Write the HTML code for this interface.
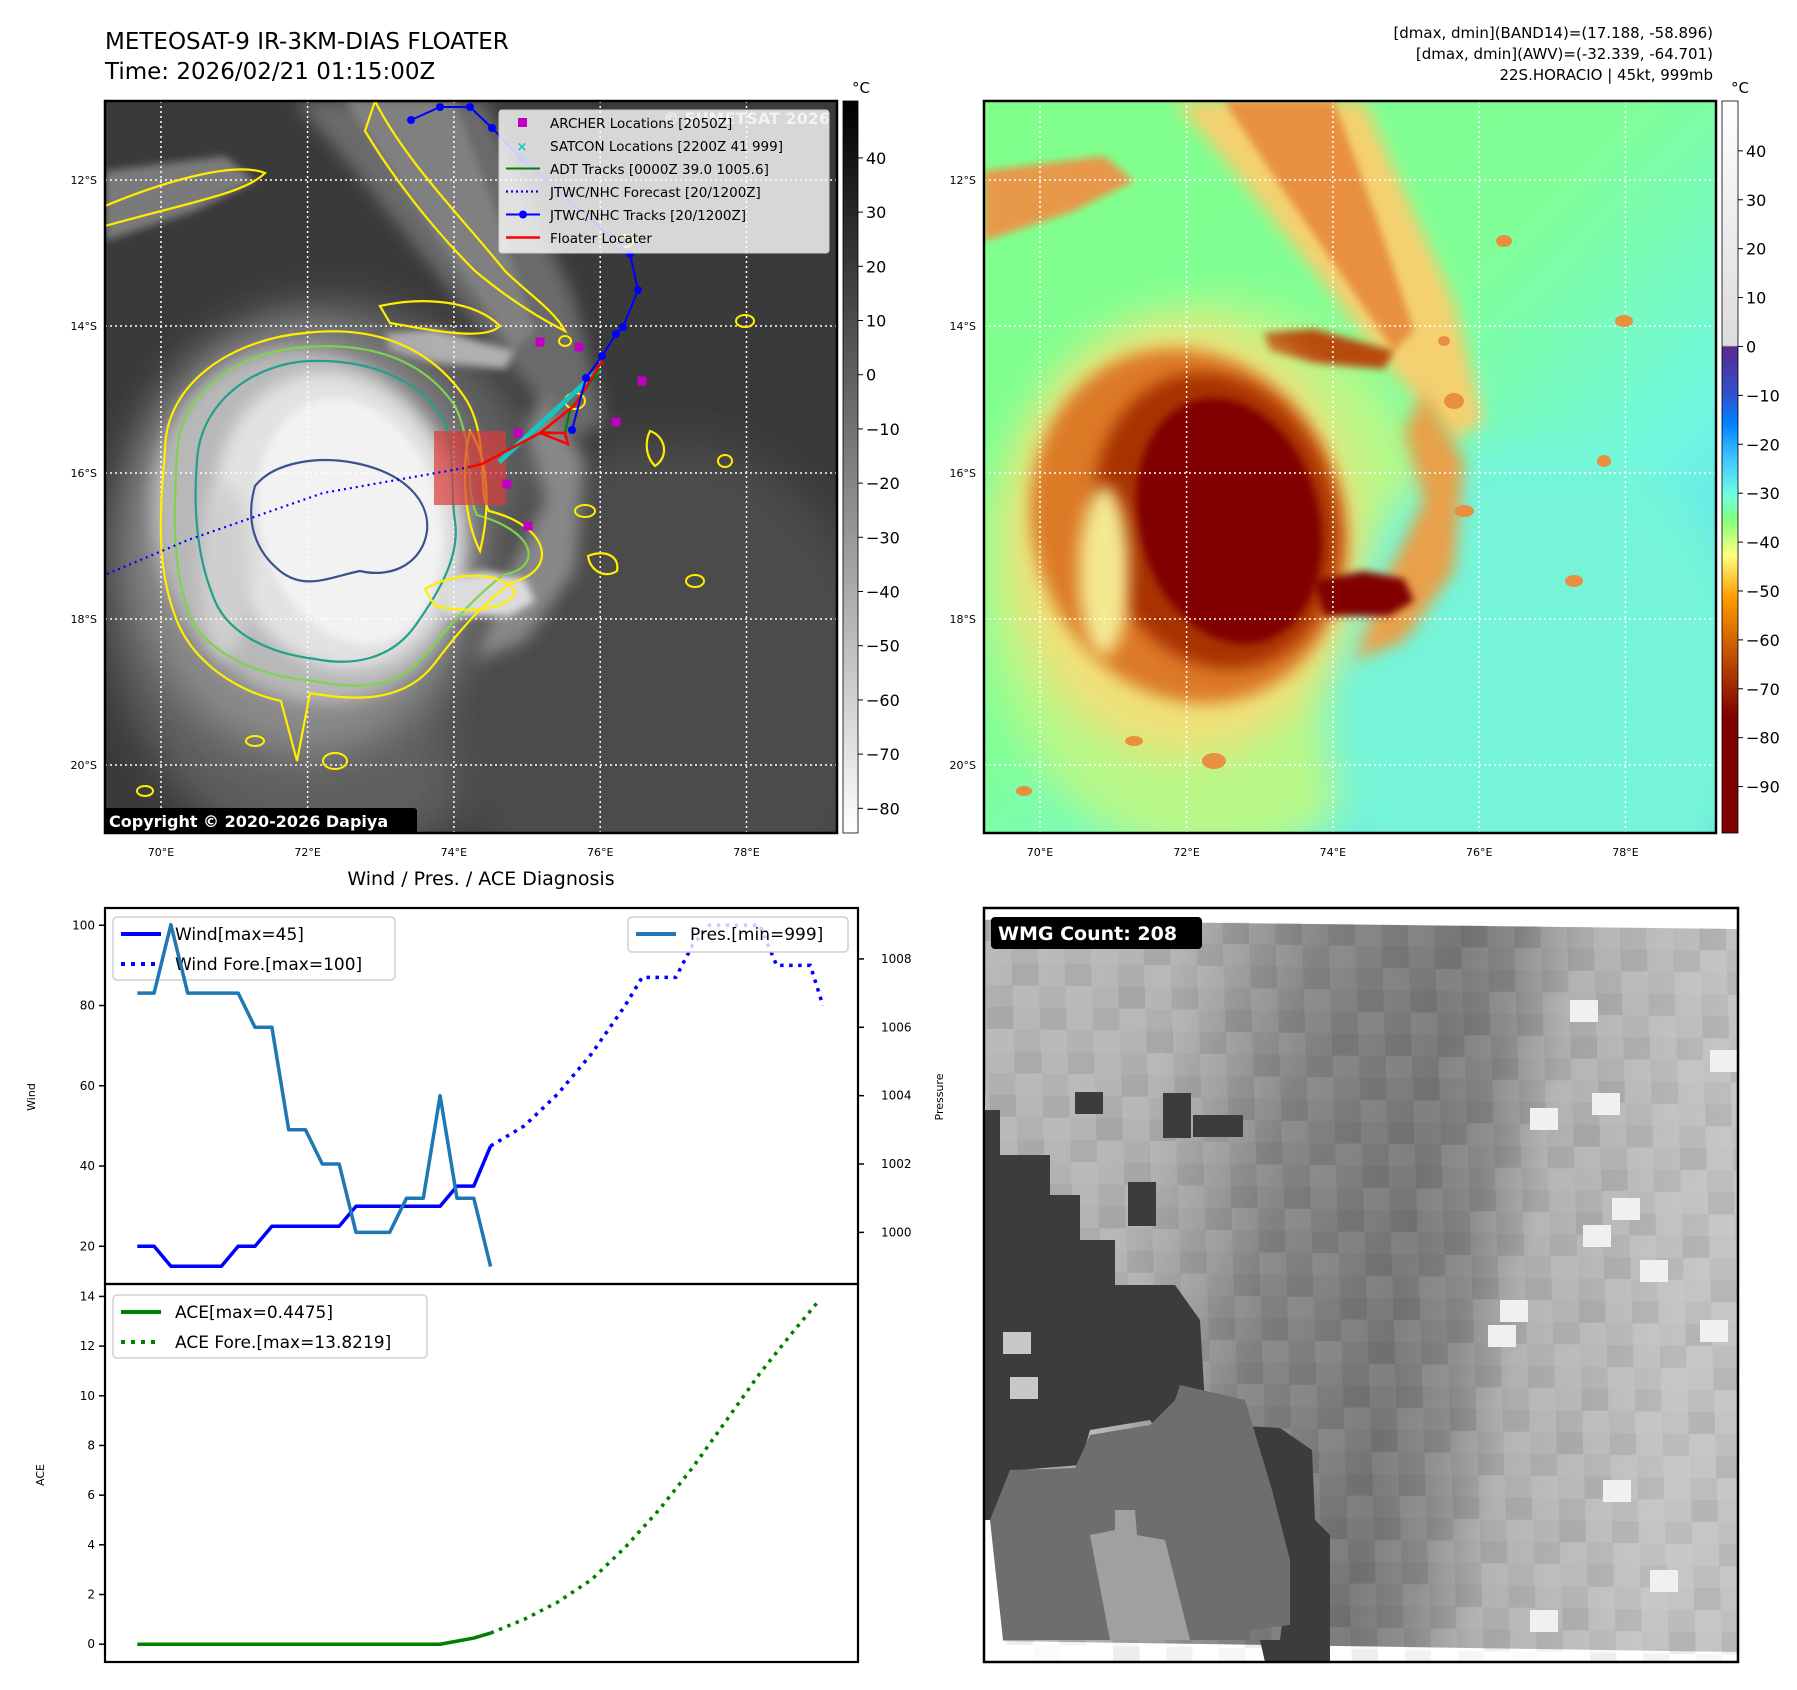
<!DOCTYPE html>
<html><head><meta charset="utf-8">
<style>
html,body{margin:0;padding:0;background:#fff;}
svg{display:block;font-family:"DejaVu Sans","Liberation Sans",sans-serif;}
</style></head>
<body>
<svg id="root" width="1797" height="1690" viewBox="0 0 1797 1690" xmlns="http://www.w3.org/2000/svg">
<defs>
  <filter id="b8" x="-30%" y="-30%" width="160%" height="160%"><feGaussianBlur stdDeviation="8"/></filter>
  <filter id="b20" x="-50%" y="-50%" width="200%" height="200%"><feGaussianBlur stdDeviation="20"/></filter>
  <filter id="b4" x="-30%" y="-30%" width="160%" height="160%"><feGaussianBlur stdDeviation="4"/></filter>
  <clipPath id="clipL"><rect x="105" y="101" width="732" height="732"/></clipPath>
  <clipPath id="clipR"><rect x="984" y="101" width="732" height="732"/></clipPath>
  <clipPath id="clipB"><rect x="984" y="908" width="754" height="754"/></clipPath>
  <linearGradient id="cbL" x1="0" y1="0" x2="0" y2="1"><stop offset="0" stop-color="#000"/><stop offset="1" stop-color="#fff"/></linearGradient>
  <linearGradient id="cbR" x1="0" y1="0" x2="0" y2="1">
    <stop offset="0" stop-color="#ffffff"/>
    <stop offset="0.334" stop-color="#dcdcdc"/>
    <stop offset="0.336" stop-color="#5a2a8a"/>
    <stop offset="0.40" stop-color="#3050d0"/>
    <stop offset="0.44" stop-color="#0080ff"/>
    <stop offset="0.49" stop-color="#40c8ff"/>
    <stop offset="0.54" stop-color="#70ffe0"/>
    <stop offset="0.57" stop-color="#80ff80"/>
    <stop offset="0.62" stop-color="#ffff80"/>
    <stop offset="0.68" stop-color="#ff9a00"/>
    <stop offset="0.77" stop-color="#b84400"/>
    <stop offset="0.84" stop-color="#800000"/>
    <stop offset="1" stop-color="#800000"/>
  </linearGradient>
  <linearGradient id="bgR" x1="0" y1="0" x2="1" y2="1">
    <stop offset="0" stop-color="#80ff8a"/>
    <stop offset="0.45" stop-color="#80ff98"/>
    <stop offset="0.7" stop-color="#70f8e0"/>
    <stop offset="1" stop-color="#48c0ff"/>
  </linearGradient>
  <linearGradient id="bgB" x1="0" y1="0" x2="1" y2="0.15">
    <stop offset="0" stop-color="#b8b8b8"/>
    <stop offset="0.26" stop-color="#b4b4b4"/>
    <stop offset="0.36" stop-color="#9a9a9a"/>
    <stop offset="0.44" stop-color="#858585"/>
    <stop offset="0.62" stop-color="#787878"/>
    <stop offset="0.70" stop-color="#8a8a8a"/>
    <stop offset="0.78" stop-color="#b0b0b0"/>
    <stop offset="1" stop-color="#c4c4c4"/>
  </linearGradient>
</defs>

<!-- titles -->
<text x="105" y="49" font-size="23">METEOSAT-9 IR-3KM-DIAS FLOATER</text>
<text x="105" y="79" font-size="23">Time: 2026/02/21 01:15:00Z</text>
<g font-size="15" text-anchor="end">
  <text x="1713" y="38">[dmax, dmin](BAND14)=(17.188, -58.896)</text>
  <text x="1713" y="59">[dmax, dmin](AWV)=(-32.339, -64.701)</text>
  <text x="1713" y="80">22S.HORACIO | 45kt, 999mb</text>
</g>

<g id="mapL" clip-path="url(#clipL)"></g>
<g id="mapR" clip-path="url(#clipR)"></g>
<g id="overL"></g>
<rect x="105" y="101" width="732" height="732" fill="none" stroke="#000" stroke-width="2.5"/>
<rect x="984" y="101" width="732" height="732" fill="none" stroke="#000" stroke-width="2.5"/>

<!-- colorbars -->
<rect x="843" y="101" width="15" height="732" fill="url(#cbL)" stroke="#000" stroke-width="0.8"/>
<rect x="1722" y="101" width="16" height="732" fill="url(#cbR)" stroke="#000" stroke-width="0.8"/>
<text x="852" y="93" font-size="15">°C</text>
<text x="1731" y="93" font-size="15">°C</text>
<g id="cbTicks"></g>

<g id="mapTicks" font-size="11"></g>

<text x="481" y="885" font-size="19" text-anchor="middle">Wind / Pres. / ACE Diagnosis</text>

<g id="chart"></g>

<g id="wmg"></g>

<script>
// ---------------- chart data ----------------
const obsHours = [0,6,12,18,24,30,36,42,48,54,60,66,72,78,84,90,96,102,108,114,120,126];
const windObs = [20,20,15,15,15,15,20,20,25,25,25,25,25,30,30,30,30,30,30,35,35,45];
const presObs = [1007,1007,1009,1007,1007,1007,1007,1006,1006,1003,1003,1002,1002,1000,1000,1000,1001,1001,1004,1001,1001,999];
const aceObs = [0,0,0,0,0,0,0,0,0,0,0,0,0,0,0,0,0,0,0,0.1225,0.245,0.4475];
const windFcHours = [126,138,150,162,174,180,192,198,204,222,228,240,244.5];
const windFc = [45,50,58,68,80,87,87,95,100,100,90,90,80];
const aceFcHours = [126,138,150,162,174,186,198,210,222,234,243];
const aceFc = [0.4475,1.0,1.7,2.6,3.9,5.4,7.1,9.0,10.9,12.6,13.82];
const windTicks = [20,40,60,80,100];
const presTicks = [1000,1002,1004,1006,1008];
const aceTicks = [0,2,4,6,8,10,12,14];

const NS='http://www.w3.org/2000/svg';
function mk(tag, attrs, parent){const e=document.createElementNS(NS,tag);for(const k in attrs)e.setAttribute(k,attrs[k]);if(parent)parent.appendChild(e);return e;}

// axes
const X0=105,X1=858,T0=908,T1=1284,B0=1284,B1=1662;
const xS=h=>X0+(h-(-11.5))/(257-(-11.5))*(X1-X0);
const wS=v=>T1-(v-10.6)/(104.3-10.6)*(T1-T0);
const pS=v=>T1-(v-998.49)/(1009.49-998.49)*(T1-T0);
const aS=v=>B1-(v-(-0.717))/(14.5-(-0.717))*(B1-B0);
const ch=document.getElementById('chart');

function poly(xs,ys,xf,yf,attrs,name){
  const pts=xs.map((h,i)=>xf(h).toFixed(1)+','+yf(ys[i]).toFixed(1)).join(' ');
  const e=mk('polyline',Object.assign({points:pts,fill:'none'},attrs),ch);
  
  
  return e;
}
mk('rect',{x:X0,y:T0,width:X1-X0,height:B1-T0,fill:'#fff'},ch);
windTicks.forEach(v=>{const y=wS(v);mk('line',{x1:X0-6,y1:y,x2:X0,y2:y,stroke:'#000','stroke-width':1.5},ch);
  const t=mk('text',{x:X0-10,y:y+4,'font-size':12,'text-anchor':'end'},ch);t.textContent=v;
  
  });
presTicks.forEach(v=>{const y=pS(v);mk('line',{x1:X1,y1:y,x2:X1+6,y2:y,stroke:'#000','stroke-width':1.5},ch);
  const t=mk('text',{x:X1+23,y:y+4,'font-size':12},ch);t.textContent=v;
  
  });
aceTicks.forEach(v=>{const y=aS(v);mk('line',{x1:X0-6,y1:y,x2:X0,y2:y,stroke:'#000','stroke-width':1.5},ch);
  const t=mk('text',{x:X0-10,y:y+4,'font-size':12,'text-anchor':'end'},ch);t.textContent=v;
  
  });
function ylab(txt,x,y,name){const t=mk('text',{x:x,y:y,'font-size':11,'text-anchor':'middle',transform:`rotate(-90 ${x} ${y})`},ch);t.textContent=txt;
  
  }
ylab('Wind',35,1097,'wind-axis-title');ylab('Pressure',943,1097,'pressure-axis-title');ylab('ACE',44,1475,'ace-axis-title');

function legend(x,y,w,h,items,name){
  const g=mk('g',{},ch);
  
  
  mk('rect',{x:x,y:y,width:w,height:h,rx:4,fill:'#fff','fill-opacity':0.8,stroke:'#d0d0d0','stroke-width':1.5},g);
  items.forEach((it,i)=>{const yy=y+17+i*30;
    mk('line',Object.assign({x1:x+8,y1:yy,x2:x+48,y2:yy},it.st),g);
    const t=mk('text',{x:x+62,y:yy+6,'font-size':17},g);t.textContent=it.t;});
}
legend(113,917,282,63,[{t:'Wind[max=45]',st:{stroke:'#0000ff','stroke-width':4}},{t:'Wind Fore.[max=100]',st:{stroke:'#0000ff','stroke-width':4,'stroke-dasharray':'4 6'}}],'wind-legend');
poly(obsHours,windObs,xS,wS,{stroke:'#0000ff','stroke-width':3.5,'stroke-linejoin':'round'},'wind-line');
poly(windFcHours,windFc,xS,wS,{stroke:'#0000ff','stroke-width':3.5,'stroke-dasharray':'3.5 5.5'},'wind-forecast-line');
poly(obsHours,presObs,xS,pS,{stroke:'#1f77b4','stroke-width':3.5,'stroke-linejoin':'round'},'pressure-line');
legend(628,917,220,35,[{t:'Pres.[min=999]',st:{stroke:'#1f77b4','stroke-width':4}}],'pressure-legend');
legend(113,1295,314,63,[{t:'ACE[max=0.4475]',st:{stroke:'#008000','stroke-width':4}},{t:'ACE Fore.[max=13.8219]',st:{stroke:'#008000','stroke-width':4,'stroke-dasharray':'4 6'}}],'ace-legend');
poly(obsHours,aceObs,xS,aS,{stroke:'#008000','stroke-width':3.5},'ace-line');
poly(aceFcHours,aceFc,xS,aS,{stroke:'#008000','stroke-width':3.5,'stroke-dasharray':'3.5 5.5'},'ace-forecast-line');
mk('rect',{x:X0,y:T0,width:X1-X0,height:T1-T0,fill:'none',stroke:'#000','stroke-width':2.2},ch);
mk('rect',{x:X0,y:B0,width:X1-X0,height:B1-B0,fill:'none',stroke:'#000','stroke-width':2.2},ch);

// ---------------- maps ----------------
const mapL=document.getElementById('mapL'), mapR=document.getElementById('mapR');
mk('rect',{x:105,y:101,width:732,height:732,fill:'#3a3a3a'},mapL);
mk('rect',{x:984,y:101,width:732,height:732,fill:'url(#bgR)'},mapR);
const shapes=[
 ['ellipse',{cx:230,cy:480,rx:230,ry:280},'#5e5e5e','#b8f888','b20'],
 ['ellipse',{cx:560,cy:600,rx:220,ry:260},'#4c4c4c','#74f4d8','b20'],
 ['path',{d:'M190,0 L380,0 L420,90 L470,200 L500,320 L470,340 L400,260 L330,170 L250,70 Z'},'#6a6a6a','#f4d070','b8'],
 ['path',{d:'M240,0 L350,0 L390,110 L430,230 L410,250 L355,170 L300,90 Z'},'#808080','#e89040','b4'],
 ['path',{d:'M0,70 L120,55 L150,80 L90,110 L0,140 Z'},'#7a7a7a','#e89848','b4'],
 ['path',{d:'M280,232 L330,228 L410,250 L400,268 L330,262 L285,250 Z'},'#b0b0b0','#b84a10','b4'],
 ['path',{d:'M440,290 L480,360 L470,470 L420,540 L370,560 L400,480 L440,400 L420,330 Z'},'#888','#e8a048','b8'],
 ['ellipse',{cx:200,cy:440,rx:175,ry:215},'#8a8a8a','#f0e078','b20'],
 ['ellipse',{cx:205,cy:425,rx:155,ry:180,transform:'rotate(-20 205 425)'},'#b8b8b8','#dc7a28','b8'],
 ['ellipse',{cx:232,cy:420,rx:120,ry:150,transform:'rotate(-15 232 420)'},'#e2e2e2','#a83000','b8'],
 ['ellipse',{cx:245,cy:420,rx:90,ry:125,transform:'rotate(-15 245 420)'},'#f2f2f2','#800000','b4'],
 ['path',{d:'M330,480 L380,470 L420,478 L430,500 L405,515 L340,515 Z'},'#dcdcdc','#800000','b4'],
 ['ellipse',{cx:120,cy:470,rx:25,ry:85},'#cfcfcf','#f4e890','b8'],
];
shapes.forEach(s=>{
  const [type,g,gray,col,f]=s;
  const a=Object.assign({},g);
  const eL=mk(type,Object.assign({},a,{fill:gray,filter:`url(#${f})`}),mapL);
  eL.setAttribute('transform',`translate(105 101) ${g.transform||''}`);
  const eR=mk(type,Object.assign({},a,{fill:col,filter:`url(#${f})`}),mapR);
  eR.setAttribute('transform',`translate(984 101) ${g.transform||''}`);
});
const gx=[56,202.6,348.9,495.2,641.5], gy=[79,225,372,518,664];
[[mapL,105],[mapR,984]].forEach(([m,ox])=>{
  gx.forEach(x=>mk('line',{x1:ox+x,y1:101,x2:ox+x,y2:833,stroke:'#fff','stroke-width':1.5,'stroke-dasharray':'2 3'},m));
  gy.forEach(y=>mk('line',{x1:ox,y1:101+y,x2:ox+732,y2:101+y,stroke:'#fff','stroke-width':1.5,'stroke-dasharray':'2 3'},m));
});
const cont=[
 ['M60,350 C60,280 130,238 200,232 C285,222 335,258 362,300 C385,340 372,392 384,410 C445,425 455,470 405,482 C382,500 360,522 330,562 C300,602 250,600 205,592 L192,660 L176,600 C130,590 88,560 72,520 C52,470 54,420 60,350 Z','#ffee00'],
 ['M72,352 C75,290 135,250 200,246 C280,240 325,268 350,305 C370,345 360,392 372,414 C430,430 440,466 398,474 C375,492 352,515 322,552 C292,590 250,588 208,580 C150,575 100,550 85,515 C68,470 68,420 72,352 Z','#7fd34e'],
 ['M92,360 C95,300 150,262 205,260 C275,258 318,285 338,318 C352,352 345,392 350,420 C355,455 335,490 310,525 C285,560 245,565 210,558 C160,552 120,530 108,495 C92,455 88,410 92,360 Z','#21a08a'],
 ['M150,385 C170,360 215,355 250,362 C300,372 325,400 322,430 C318,460 290,478 255,470 C225,476 200,490 175,470 C150,450 140,420 150,385 Z','#3b528b'],
 ['M0,105 C60,80 130,60 160,72 C140,92 90,100 0,125 Z','#ffee00'],
 ['M270,0 C300,60 360,120 400,170 C420,190 450,210 460,230 C430,215 400,195 370,170 C330,130 290,80 260,30 Z','#ffee00'],
 ['M275,205 C320,195 370,200 395,225 C380,240 330,230 285,222 Z','#ffee00'],
 ['M320,488 C350,470 395,470 410,490 C405,510 360,512 330,505 Z','#ffee00'],
 ['M365,330 C385,360 385,410 375,450 C360,420 355,370 365,330 Z','#ffee00'],
 ['M483,455 C500,448 515,455 512,470 C500,478 485,470 483,455 Z','#ffee00'],
 ['M545,330 C560,335 565,355 550,365 C540,355 540,340 545,330 Z','#ffee00'],
];
cont.forEach(c=>{const p=mk('path',{d:c[0],fill:'none',stroke:c[1],'stroke-width':2.2,transform:'translate(105 101)'},mapL);
  
  });
[[40,690,8,5],[520,140,8,6],[470,300,10,8],[620,360,7,6],[480,410,10,6],[640,220,9,6],[150,640,9,5],[230,660,12,8],[460,240,6,5],[590,480,9,6]].forEach(b=>{
  mk('ellipse',{cx:105+b[0],cy:101+b[1],rx:b[2],ry:b[3],fill:'none',stroke:'#ffee00','stroke-width':2},mapL);
  mk('ellipse',{cx:984+b[0],cy:101+b[1],rx:b[2],ry:b[3],fill:'#e89040'},mapR);
});
mk('rect',{x:434,y:431,width:72,height:74,fill:'#dc3c3c','fill-opacity':0.7},mapL);
const fcT=mk('polyline',{points:'470,467 323,493 188,540 107,574',fill:'none',stroke:'#0000ff','stroke-width':2.2,'stroke-dasharray':'2 4'},mapL);


mk('line',{x1:499,y1:462,x2:600,y2:369,stroke:'#17c3c3','stroke-width':5},mapL);
mk('polyline',{points:'540,432 565,433 570,410 600,369',fill:'none',stroke:'#008000','stroke-width':2},mapL);
mk('polyline',{points:'469,467 482,464 540,433 568,444 565,433 540,433 575,405 602,361',fill:'none',stroke:'#ff0000','stroke-width':2.5},mapL);
const trk=[[411,120],[440,107],[470,107],[492,128],[522,159],[630,254],[638,290],[623,327],[616,334],[602,356],[586,378],[572,430]];
const tl=mk('polyline',{points:trk.map(p=>p.join(',')).join(' '),fill:'none',stroke:'#0000ff','stroke-width':2},mapL);


trk.forEach(p=>mk('circle',{cx:p[0],cy:p[1],r:4,fill:'#0000ff'},mapL));
[[540,342],[579,347],[642,381],[616,422],[518,433],[507,484],[528,526]].forEach(p=>{
  const s=mk('rect',{x:p[0]-4.5,y:p[1]-4.5,width:9,height:9,fill:'#c000c0'},mapL);
  
  
});
const wm=mk('text',{x:830,y:124,'font-size':16,'font-weight':'bold','text-anchor':'end',fill:'#ddd','fill-opacity':0.8},mapL);wm.textContent='© EUMETSAT 2026';
const lg=mk('g',{},mapL);


mk('rect',{x:499,y:110,width:330,height:143,rx:3,fill:'#fff','fill-opacity':0.8,stroke:'#ccc'},lg);
const items=['ARCHER Locations [2050Z]','SATCON Locations [2200Z 41 999]','ADT Tracks [0000Z 39.0 1005.6]','JTWC/NHC Forecast [20/1200Z]','JTWC/NHC Tracks [20/1200Z]','Floater Locater'];
items.forEach((t,i)=>{const y=123+i*23;const tx=mk('text',{x:550,y:y+5,'font-size':13.5},lg);tx.textContent=t;});
mk('rect',{x:518,y:118,width:9,height:9,fill:'#c000c0'},lg);
const xm=mk('text',{x:522,y:151,'font-size':13,'font-weight':'bold','text-anchor':'middle',fill:'#17c3c3'},lg);xm.textContent='×';
mk('line',{x1:506,y1:168.5,x2:540,y2:168.5,stroke:'#008000','stroke-width':2},lg);
mk('line',{x1:506,y1:191.5,x2:540,y2:191.5,stroke:'#0000ff','stroke-width':2.2,'stroke-dasharray':'2 3'},lg);
mk('line',{x1:506,y1:214.5,x2:540,y2:214.5,stroke:'#0000ff','stroke-width':2},lg);
mk('circle',{cx:523,cy:214.5,r:4,fill:'#0000ff'},lg);
mk('line',{x1:506,y1:237.5,x2:540,y2:237.5,stroke:'#ff0000','stroke-width':2.5},lg);
mk('rect',{x:104,y:808,width:313,height:26,rx:3,fill:'#000'},mapL);
const ct=mk('text',{x:109,y:827,'font-size':16,'font-weight':'bold',fill:'#fff'},mapL);ct.textContent='Copyright © 2020-2026 Dapiya';



const mt=document.getElementById('mapTicks');
const lonL=['70°E','72°E','74°E','76°E','78°E'], latL=['12°S','14°S','16°S','18°S','20°S'];
[105,984].forEach(ox=>{
  gx.forEach((x,i)=>{const t=mk('text',{x:ox+x,y:856,'text-anchor':'middle'},mt);t.textContent=lonL[i];
    
    });
  gy.forEach((y,i)=>{const t=mk('text',{x:ox-8,y:101+y+4,'text-anchor':'end'},mt);t.textContent=latL[i];
    
    });
});
const cbt=document.getElementById('cbTicks');
const cbLVals=[40,30,20,10,0,-10,-20,-30,-40,-50,-60,-70,-80];
cbLVals.forEach(v=>{const y=101+(50.5-v)*5.42;mk('line',{x1:858,y1:y,x2:863,y2:y,stroke:'#000'},cbt);
  const t=mk('text',{x:866,y:y+6,'font-size':16},cbt);t.textContent=v<0?'−'+(-v):v;
  
  });
const cbRVals=[40,30,20,10,0,-10,-20,-30,-40,-50,-60,-70,-80,-90];
cbRVals.forEach(v=>{const y=101+(50.2-v)*4.89;mk('line',{x1:1738,y1:y,x2:1743,y2:y,stroke:'#000'},cbt);
  const t=mk('text',{x:1746,y:y+6,'font-size':16},cbt);t.textContent=v<0?'−'+(-v):v;
  
  });

// ---------------- WMG panel ----------------
const wmg=document.getElementById('wmg');
const wg=mk('g',{'clip-path':'url(#clipB)'},wmg);
mk('rect',{x:984,y:908,width:754,height:754,fill:'#fff'},wg);
mk('polygon',{points:'980,920 1737,929 1737,1652 1003,1641',fill:'url(#bgB)'},wg);
const bx0=984, by0=919, bw=26.5, bh=22;
for(let r=0;r<34;r++){for(let c=0;c<29;c++){
  const h=((r*73+c*151)%97)/97; const x=bx0+c*bw+r*0.7, y=by0+r*bh+c*0.35;
  const a=(h-0.5)*0.16;
  mk('rect',{x:x,y:y,width:bw,height:bh,fill:a>0?'#fff':'#000','fill-opacity':Math.abs(a)},wg);
}}
[[1570,1000],[1592,1093],[1530,1108],[1612,1198],[1500,1300],[1488,1325],[1603,1480],[1530,1610],[1583,1225],[1640,1260],[1700,1320],[1710,1050],[1650,1570]].forEach(p=>mk('rect',{x:p[0],y:p[1],width:28,height:22,fill:'#f0f0f0'},wg));
const dk=mk('polygon',{points:'984,1110 1000,1110 1000,1155 1050,1155 1050,1195 1080,1195 1080,1240 1115,1240 1115,1285 1175,1285 1200,1320 1205,1405 1230,1425 1280,1428 1312,1450 1315,1520 1330,1535 1330,1662 1265,1662 1260,1640 1280,1640 1285,1600 1220,1520 1150,1420 1090,1430 1080,1465 1020,1470 1010,1520 984,1520',fill:'#3c3c3c'},wg);
mk('rect',{x:1075,y:1092,width:28,height:22,fill:'#3c3c3c'},wg);
mk('rect',{x:1163,y:1093,width:28,height:45,fill:'#3c3c3c'},wg);
mk('rect',{x:1193,y:1115,width:50,height:22,fill:'#3c3c3c'},wg);
mk('rect',{x:1128,y:1182,width:28,height:44,fill:'#3c3c3c'},wg);
mk('rect',{x:1003,y:1332,width:28,height:22,fill:'#c8c8c8'},wg);
mk('rect',{x:1010,y:1377,width:28,height:22,fill:'#c8c8c8'},wg);
mk('polygon',{points:'990,1520 1010,1470 1075,1468 1090,1435 1150,1425 1175,1400 1180,1385 1245,1400 1272,1490 1290,1560 1290,1625 1250,1630 1250,1640 1120,1640 1003,1640',fill:'#6e6e6e'},wg);
mk('polygon',{points:'1090,1535 1115,1530 1115,1510 1135,1510 1137,1535 1165,1540 1190,1640 1110,1640',fill:'#a0a0a0'},wg);
mk('rect',{x:984,y:908,width:754,height:754,fill:'none',stroke:'#000','stroke-width':2.5},wmg);
mk('rect',{x:991,y:917,width:211,height:32,rx:4,fill:'#000'},wmg);
const wt=mk('text',{x:998,y:940,'font-size':19,'font-weight':'bold',fill:'#fff'},wmg);wt.textContent='WMG Count: 208';


</script>
</svg>
</body></html>
